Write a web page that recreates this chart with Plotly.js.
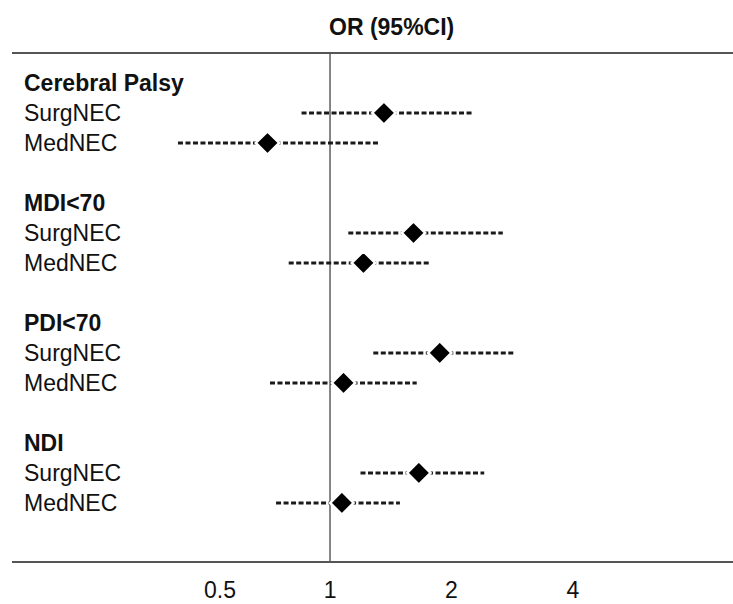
<!DOCTYPE html>
<html>
<head>
<meta charset="utf-8">
<script src="https://cdn.plot.ly/plotly-3.0.1.min.js"></script>
<style>html,body{margin:0;padding:0;background:#fff;}</style>
</head>
<body>
<div id="chart" style="width:733px;height:604px;"></div>
<script>
// Row labels (top to bottom) and whether each is a group header
const rowLabels = ["Cerebral Palsy","SurgNEC","MedNEC","",
                   "MDI<70","SurgNEC","MedNEC","",
                   "PDI<70","SurgNEC","MedNEC","",
                   "NDI","SurgNEC","MedNEC"];
const rowIsHeader = [true,false,false,false, true,false,false,false, true,false,false,false, true,false,false];

// Estimates (rows with data)
const estRows = [1, 2, 5, 6, 9, 10, 13, 14];
const orValues = [1.36, 0.70, 1.61, 1.21, 1.87, 1.08, 1.66, 1.07];
const ciLower  = [0.85, 0.42, 1.11, 0.79, 1.28, 0.71, 1.19, 0.735];
const ciUpper  = [2.27, 1.33, 2.68, 1.76, 2.85, 1.64, 2.41, 1.49];

const tickPositions = [0.534, 1, 2, 4];
const tickLabels = ["0.5", "1", "2", "4"];
const titleText = "OR (95%CI)";

const FONT = "Liberation Sans, Arial, Helvetica, sans-serif";

// CI lines
const ciX = [], ciY = [];
for (let i = 0; i < estRows.length; i++) {
  ciX.push(ciLower[i], ciUpper[i], null);
  ciY.push(estRows[i], estRows[i], null);
}

const traces = [
  { // reference line at OR = 1
    x: [1, 1], y: [-1, 15.97], mode: "lines", type: "scatter",
    line: {color: "#444", width: 1.3}, hoverinfo: "skip", showlegend: false
  },
  {
    x: ciX, y: ciY, mode: "lines", type: "scatter",
    line: {color: "#1a1a1a", width: 3, dash: "5px,2.5px"},
    hoverinfo: "skip", showlegend: false
  },
  {
    x: orValues, y: estRows, mode: "markers", type: "scatter",
    marker: {symbol: "diamond", size: 18, color: "#000", line: {color: "#fff", width: 2.5}},
    showlegend: false
  }
];

const annotations = [];
rowLabels.forEach((lab, i) => {
  if (!lab) return;
  annotations.push({
    xref: "paper", yref: "y", x: 10/721, y: i, xanchor: "left", yanchor: "middle",
    text: rowIsHeader[i] ? "<b>" + lab.replace("<", "&lt;") + "</b>" : lab,
    showarrow: false,
    font: {family: FONT, size: 23, color: "#111"}
  });
});
annotations.push({
  xref: "paper", yref: "paper", x: (391-12)/721, y: (562-27)/509,
  xanchor: "center", yanchor: "middle", text: "<b>" + titleText + "</b>",
  showarrow: false, font: {family: FONT, size: 23, color: "#111"}
});

const layout = {
  width: 733, height: 604,
  margin: {l: 12, r: 0, t: 53, b: 42},
  paper_bgcolor: "#fff", plot_bgcolor: "#fff",
  xaxis: {
    type: "log", range: [-0.788, 0.9985],
    tickvals: tickPositions, ticktext: tickLabels,
    showgrid: false, zeroline: false, showline: false,
    ticks: "", ticklabelstandoff: 12,
    tickfont: {family: FONT, size: 23, color: "#111"}
  },
  yaxis: {
    range: [15.97, -1], showgrid: false, zeroline: false, showline: false,
    showticklabels: false, ticks: ""
  },
  shapes: [
    {type: "line", xref: "paper", yref: "paper", x0: 0, x1: 1, y0: 1, y1: 1, line: {color: "#555", width: 2}},
    {type: "line", xref: "paper", yref: "paper", x0: 0, x1: 1, y0: 0, y1: 0, line: {color: "#555", width: 2}}
  ],
  annotations: annotations
};

Plotly.newPlot("chart", traces, layout, {displayModeBar: false, staticPlot: true});
</script>
</body>
</html>
